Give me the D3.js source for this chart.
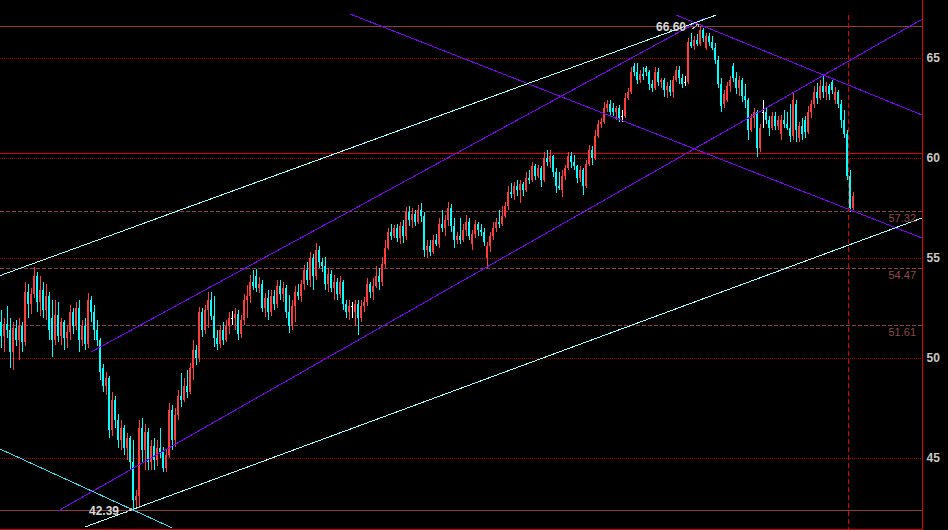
<!DOCTYPE html>
<html><head><meta charset="utf-8">
<script src="https://cdn.jsdelivr.net/npm/d3@7"></script>
<style>html,body{margin:0;padding:0;background:#000;overflow:hidden}</style>
</head><body><svg id="c" width="948" height="530"></svg>
<script>
// ---- data (prices) ----
const open = [
51.8,51.1,51.7,51.4,50.3,51.5,50.9,51.6,50.8,53.3,
52.7,53.2,54.1,52.8,53.4,52.4,53.1,52.0,50.9,52.15,
51.1,51.8,51.0,51.3,52.3,51.6,52.5,50.9,51.6,50.7,
52.9,52.3,51.4,50.9,49.5,48.6,49.0,46.4,47.9,46.9,
45.9,46.5,45.5,46.0,44.8,42.9,43.1,46.5,45.4,46.3,
44.8,45.6,44.9,45.5,45.3,44.5,45.15,47.4,45.9,47.15,
48.1,47.9,48.6,48.3,49.5,50.4,50.0,52.3,51.4,52.4,
52.9,52.1,51.0,50.7,51.4,50.9,51.6,52.0,52.0,52.2,
51.2,51.9,52.9,53.1,53.8,54.1,53.5,53.7,52.5,53.0,
52.3,53.1,52.7,53.6,53.2,53.5,52.3,51.6,52.6,53.3,
53.1,53.7,54.4,53.9,55.0,54.1,55.4,54.8,54.6,53.7,
54.2,53.5,53.8,53.2,53.8,52.7,52.3,52.6,52.3,52.7,
52.0,52.6,52.8,53.7,53.3,53.6,54.1,53.8,54.7,55.5,
56.3,56.1,56.5,56.0,56.6,56.1,57.3,56.9,57.2,56.8,
57.4,57.1,55.4,55.6,55.3,55.9,55.7,56.7,56.5,56.9,
57.5,56.6,55.9,56.1,55.9,56.4,56.8,55.7,56.2,56.7,
56.4,56.3,55.0,55.6,56.1,56.5,56.8,56.7,57.1,57.6,
58.3,58.2,58.6,58.4,58.7,58.4,59.0,58.9,59.6,59.1,
59.5,58.9,60.0,59.8,60.1,59.3,58.6,58.4,59.1,59.5,
60.1,59.8,59.6,59.0,59.4,58.6,59.7,60.4,60.0,61.1,
61.7,61.8,62.5,62.7,62.5,62.3,62.5,62.1,62.1,63.0,
63.3,64.6,64.3,63.9,64.2,64.5,64.3,63.7,63.5,64.3,
63.8,63.9,63.4,63.6,63.3,63.9,64.4,64.0,63.8,63.8,
65.8,65.6,65.9,65.7,66.4,65.5,66.1,65.8,65.5,64.9,
63.7,62.7,62.9,63.6,64.6,64.0,63.5,63.9,63.1,62.9,
61.4,62.0,62.3,60.5,62.3,62.3,61.9,61.5,62.1,61.6,
61.2,61.9,61.7,61.5,61.1,62.7,61.0,61.6,61.9,61.3,
62.3,62.7,63.3,63.0,63.6,63.3,63.6,63.8,62.9,63.3,
62.7,61.9,61.2,59.1,57.5];
const high = [
52.4,52.0,52.6,52.0,51.8,51.9,52.0,51.8,53.8,53.7,
53.5,54.55,54.3,54.1,53.8,53.7,53.3,52.9,52.9,52.8,
52.0,51.9,51.65,52.65,52.5,52.8,52.9,51.9,52.0,53.25,
53.1,52.65,51.9,51.0,49.7,49.3,49.1,48.3,48.1,47.2,
46.9,46.65,46.25,46.1,45.9,43.4,46.9,47.0,46.7,46.5,
45.9,46.0,45.9,46.5,45.55,45.4,47.75,47.65,47.5,48.4,
49.25,49.0,49.4,49.75,50.9,50.65,52.55,52.5,52.65,53.3,
53.3,53.1,51.4,51.65,51.8,51.9,52.3,52.35,52.5,52.4,
52.15,53.2,53.65,54.15,54.4,54.45,54.05,53.9,53.25,53.4,
53.4,53.4,53.9,53.9,53.8,53.65,53.15,52.9,53.6,53.7,
53.9,54.65,54.8,55.3,55.2,55.75,55.6,55.0,55.05,54.5,
54.4,54.15,54.0,54.1,53.9,52.9,52.9,52.8,52.9,52.9,
52.9,53.05,54.0,53.8,54.0,54.6,54.5,55.05,55.9,56.5,
56.7,56.65,56.7,56.8,56.9,57.55,57.6,57.5,57.4,57.65,
57.75,57.3,55.9,55.9,56.15,56.2,57.0,57.4,57.15,57.8,
57.7,57.0,56.3,57.0,56.7,57.15,57.0,56.4,56.9,56.8,
56.7,56.5,55.8,56.3,56.8,57.0,57.4,57.6,57.8,58.6,
58.75,58.8,58.9,58.9,58.8,59.3,59.4,59.8,59.7,59.65,
59.6,60.3,60.4,60.4,60.15,59.5,59.3,59.4,59.65,60.3,
60.3,60.15,59.65,59.6,59.5,59.9,60.65,60.6,61.4,61.9,
62.0,62.8,62.9,62.9,62.75,62.6,62.65,62.4,63.25,63.5,
64.55,64.75,64.75,64.4,64.55,64.6,64.4,63.9,64.55,64.5,
64.0,64.0,63.8,63.9,64.1,64.6,64.6,64.2,64.1,66.0,
66.25,66.1,66.2,66.6,66.5,66.25,66.25,66.1,65.75,65.1,
64.0,63.4,63.8,64.1,64.75,64.3,64.1,64.0,63.7,63.0,
62.2,62.5,62.4,61.7,62.9,62.5,62.1,62.3,62.3,62.1,
62.15,62.4,62.3,62.7,63.25,62.9,61.8,62.0,62.1,62.6,
62.9,63.6,63.75,63.9,64.1,63.8,63.7,63.9,63.55,63.4,
62.9,62.4,61.4,59.4,58.3];
const low = [
50.5,50.3,51.0,49.5,49.4,50.6,49.9,50.3,50.6,52.0,
52.2,53.0,52.3,52.1,52.0,51.9,50.9,50.05,50.65,50.8,
50.65,50.4,50.5,50.9,51.2,51.4,50.3,50.6,50.4,50.5,
51.8,50.9,50.6,48.9,48.3,48.15,46.0,46.1,46.5,45.5,
45.4,45.15,44.9,44.4,42.39,42.5,42.5,44.8,44.4,44.4,
44.4,44.4,44.6,45.0,44.3,44.3,45.0,45.4,45.55,46.9,
47.55,47.8,48.0,48.2,48.9,49.65,49.8,51.05,51.2,51.5,
51.9,50.55,50.4,50.5,50.65,50.8,51.2,51.65,51.4,50.9,
51.0,51.65,52.0,52.75,53.4,53.3,53.25,52.3,52.05,51.9,
52.1,52.4,52.5,52.9,52.8,52.0,51.25,51.4,51.8,52.9,
52.8,53.4,53.65,53.55,53.4,53.9,54.5,54.3,53.4,53.3,
53.3,52.9,52.9,53.0,52.4,52.0,51.9,52.0,51.65,51.15,
51.8,52.3,52.6,53.0,52.9,53.5,53.4,53.6,54.5,55.4,
55.9,56.0,55.8,55.7,55.75,55.9,56.6,56.5,56.6,56.7,
56.8,55.05,55.0,55.1,55.2,55.6,55.5,56.3,56.1,56.6,
56.3,55.5,55.7,55.7,55.8,56.1,55.9,55.4,56.0,56.1,
56.1,55.6,54.5,55.3,55.9,56.3,56.5,56.6,57.0,57.4,
58.0,57.9,58.1,57.75,58.1,58.3,58.7,58.8,58.9,59.0,
58.55,58.8,59.6,59.5,59.05,58.25,58.4,58.05,58.9,59.4,
59.5,59.4,58.75,58.8,58.15,58.5,59.6,59.65,59.9,61.0,
61.5,61.7,62.3,62.05,62.1,61.9,61.8,61.8,62.0,62.9,
63.2,64.1,63.7,63.75,63.9,64.1,63.4,63.3,63.4,63.6,
63.5,63.05,63.0,63.1,63.0,63.8,63.7,63.5,63.6,63.7,
65.5,65.4,65.6,65.6,65.8,65.4,65.6,65.4,64.7,63.5,
62.3,62.5,62.8,63.3,63.8,63.2,63.1,62.8,62.5,60.9,
61.3,61.5,60.05,60.3,61.5,61.7,61.1,61.4,61.4,61.4,
60.9,61.5,61.4,60.8,60.9,60.8,60.8,60.9,61.0,61.2,
62.0,62.5,62.7,62.9,63.0,62.9,62.9,63.2,62.7,62.5,
61.5,61.0,58.9,57.32,57.4];
const close = [
51.1,51.7,51.4,50.3,51.5,50.9,51.6,50.8,53.3,52.7,
53.2,54.1,52.8,53.4,52.4,53.1,51.4,50.9,52.15,51.1,
51.8,51.0,51.3,52.3,51.6,52.5,50.9,51.6,50.7,52.9,
52.3,51.4,50.9,49.3,48.6,49.0,46.4,47.9,46.9,45.9,
46.5,45.5,46.0,44.8,42.9,43.1,46.5,45.4,46.3,44.8,
45.6,44.9,45.5,45.3,44.5,45.15,47.4,45.9,47.15,48.1,
47.9,48.6,48.3,49.5,50.4,50.0,52.3,51.4,52.4,52.9,
52.1,51.0,50.7,51.4,50.9,51.6,52.0,52.0,52.2,51.2,
51.9,52.9,53.1,53.8,53.6,53.5,53.7,52.5,53.0,52.3,
53.1,52.7,53.6,53.2,53.5,52.3,51.6,52.6,53.3,53.1,
53.7,54.4,53.9,55.0,54.1,55.4,54.8,54.6,53.7,54.2,
53.5,53.8,53.2,53.8,52.7,52.3,52.6,52.6,52.7,52.0,
52.6,52.8,53.7,53.3,53.6,54.1,53.8,54.7,55.5,56.3,
56.1,56.5,56.0,56.6,56.1,57.3,56.9,57.2,56.8,57.4,
57.1,55.4,55.6,55.3,55.9,55.7,56.7,56.5,56.9,57.5,
56.6,55.9,56.1,55.9,56.4,56.8,56.1,56.2,56.7,56.4,
56.3,55.8,55.6,56.1,56.5,56.8,56.7,57.1,57.6,58.3,
58.2,58.6,58.4,58.7,58.4,59.0,58.9,59.6,59.1,59.5,
58.9,60.0,59.8,60.1,59.3,58.6,58.5,59.1,59.5,60.1,
59.8,59.6,59.0,59.4,58.6,59.7,60.4,60.0,61.1,61.7,
61.8,62.5,62.7,62.3,62.3,62.5,62.0,62.1,63.0,63.3,
64.3,64.3,63.9,64.2,64.1,64.3,63.7,63.5,64.3,63.8,
63.9,63.4,63.6,63.3,63.9,64.4,64.0,63.7,63.8,65.8,
65.6,65.9,65.7,66.4,66.0,66.1,65.8,65.5,64.9,63.7,
62.6,63.2,63.6,63.9,64.0,63.5,63.9,63.1,62.9,61.4,
62.0,62.3,60.5,61.5,62.3,61.9,61.5,62.1,61.6,61.9,
61.9,61.7,61.5,61.1,62.9,61.4,61.6,61.2,61.3,62.3,
62.7,63.3,63.0,63.6,63.3,63.6,63.2,63.4,63.3,62.7,
61.9,61.2,59.1,57.5,58.1];

const gridTicks = [45, 50, 55, 60, 65];
const levelPrices = [57.32, 54.47, 51.61];
const levelLabels = ["57.32", "54.47", "51.61"];
const supportPrice = 60.23;
const extremePrices = [66.60, 42.39];
const extremeIndex = [233, 44];
const extremeLabels = ["66.60", "42.39"];
const cursorIndex = 282.2;
// trend lines: [index1, price1, index2, price2]
const cyanLines = [
  [-0.5, 54.12, 238.1, 67.14],
  [27.83, 41.55, 306.83, 57.0]
];
const cyanLines2 = [
  [-0.5, 45.45, 56.83, 41.51]
];
const purpleLines = [
  [29.83, 50.3, 234.5, 67.0],
  [18.83, 42.35, 306.83, 66.935],
  [224.83, 67.15, 306.83, 62.15],
  [116.17, 67.2, 306.83, 56.0]
];

const n = close.length;
if (open.length !== n || high.length !== n || low.length !== n) {
  throw new Error("length mismatch " + [open.length, high.length, low.length, close.length].join(","));
}

// ---- drawing ----
const W = 948, H = 530, axisX = 922;
const svg = d3.select("#c");
svg.append("rect").attr("width", W).attr("height", H).attr("fill", "#000");

const x = d3.scaleLinear().domain([0, 284]).range([1.5, 853.5]);
const y = d3.scaleLinear().domain([67.9, 41.4]).range([0, 530]);
const py = v => Math.floor(y(v)) + 0.5;

svg.append("clipPath").attr("id", "plot").append("rect")
  .attr("x", 0).attr("y", 0).attr("width", axisX).attr("height", H);
const g = svg.append("g").attr("clip-path", "url(#plot)");

// grid (dotted)
g.selectAll("line.grid").data(gridTicks).join("line")
  .attr("x1", 0).attr("x2", axisX).attr("y1", py).attr("y2", py)
  .attr("stroke", "#a80000").attr("stroke-dasharray", "1,1");

// dashed levels
g.selectAll("line.lvl").data(levelPrices).join("line")
  .attr("x1", 0).attr("x2", axisX).attr("y1", py).attr("y2", py)
  .attr("stroke", "#8a4646").attr("stroke-dasharray", "4,2");
svg.selectAll("text.lvl").data(levelPrices).join("text")
  .attr("x", 916).attr("y", d => y(d) + 10)
  .attr("text-anchor", "end").attr("fill", "#8c4848")
  .style("font", "11px 'Liberation Sans', Arial, sans-serif")
  .text((d, i) => levelLabels[i]);

// extreme lines
g.selectAll("line.ext").data(extremePrices).join("line")
  .attr("x1", 0).attr("x2", axisX).attr("y1", py).attr("y2", py)
  .attr("stroke", "#8c3c3c");

// support red line
g.append("line").attr("x1", 0).attr("x2", axisX)
  .attr("y1", py(supportPrice)).attr("y2", py(supportPrice)).attr("stroke", "#e00000");

// bottom frame
svg.append("line").attr("x1", 0).attr("x2", axisX).attr("y1", 529.5).attr("y2", 529.5)
  .attr("stroke", "#d00000");

// cursor line
const cx = Math.floor(x(cursorIndex)) + 0.5;
svg.append("line").attr("x1", cx).attr("x2", cx).attr("y1", 15).attr("y2", H)
  .attr("stroke", "#e00000").attr("stroke-dasharray", "5,3");

// candles
const idx = d3.range(n);
const colorOf = i => close[i] > open[i] ? "#ff3c3c" : (close[i] < open[i] ? "#00ffff" : "#ffffff");
g.selectAll("line.wick").data(idx).join("line")
  .attr("x1", i => x(i)).attr("x2", i => x(i))
  .attr("y1", i => y(high[i])).attr("y2", i => y(low[i]))
  .attr("stroke", colorOf).attr("shape-rendering", "crispEdges");
g.selectAll("rect.body").data(idx).join("rect")
  .attr("x", i => x(i) - 1.5).attr("width", 2)
  .attr("y", i => Math.round(y(Math.max(open[i], close[i]))))
  .attr("height", i => Math.max(1, Math.round(Math.abs(y(open[i]) - y(close[i])))))
  .attr("fill", colorOf).attr("shape-rendering", "crispEdges");

// trend lines
function drawLines(arr, color) {
  g.selectAll(null).data(arr).join("line")
    .attr("x1", d => x(d[0])).attr("y1", d => y(d[1]))
    .attr("x2", d => x(d[2])).attr("y2", d => y(d[3]))
    .attr("stroke", color).attr("stroke-width", 1).attr("shape-rendering", "crispEdges");
}
drawLines(purpleLines, "#8000ff");
drawLines(cyanLines, "#a0ffff");
drawLines(cyanLines2, "#30e0f0");

// extreme labels + arrows
extremePrices.forEach((p, k) => {
  const px = x(extremeIndex[k]), yy = y(p);
  svg.append("text").attr("x", px - 14.5).attr("y", yy + 5)
    .attr("text-anchor", "end").attr("fill", "#d8d8d8")
    .style("font", "bold 12px 'Liberation Sans', Arial, sans-serif")
    .text(extremeLabels[k]);
  svg.append("path")
    .attr("d", `M${px-8},${yy+3}L${px-2},${yy-2}M${px-2},${yy-2}l-3,0M${px-2},${yy-2}l0,3`)
    .attr("stroke", "#bbbbbb").attr("fill", "none").attr("shape-rendering", "crispEdges");
});

// right axis
const axis = d3.axisRight(y).tickValues(gridTicks).tickSize(0).tickSizeOuter(0)
  .tickPadding(4).tickFormat(d3.format("d"));
const ag = svg.append("g").attr("transform", `translate(${axisX + 0.5},0)`).call(axis);
ag.select(".domain").attr("stroke", "#e00000").attr("d", `M0,0V${H}`);
ag.selectAll("text").attr("fill", "#c8c8c8")
  .style("font", "bold 12px 'Liberation Sans', Arial, sans-serif");
</script>
</body></html>
